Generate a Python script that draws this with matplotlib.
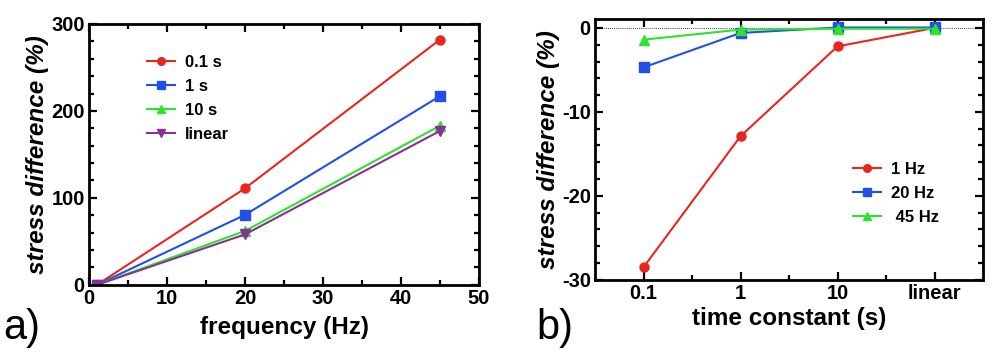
import numpy as np
import matplotlib.pyplot as plt
from matplotlib.ticker import MultipleLocator, FixedLocator

plt.rcParams['font.family'] = ['Liberation Sans', 'DejaVu Sans']
plt.rcParams['font.weight'] = 'bold'
plt.rcParams['axes.labelweight'] = 'bold'
plt.rcParams['axes.unicode_minus'] = False

# =====================================================
# Data
# =====================================================
# panel a) stress difference vs frequency
freq = [1, 20, 45]
a_labels = ["0.1 s", "1 s", "10 s", "linear"]
a_01s = [0, 111, 282]
a_1s = [0, 80.5, 217]
a_10s = [0, 62, 183]
a_linear = [0, 58, 177]

# panel b) stress difference vs time constant
tc_labels = ["0.1", "1", "10", "linear"]
b_labels = ["1 Hz", "20 Hz", " 45 Hz"]
b_1hz = [-28.5, -12.9, -2.2, 0.0]
b_20hz = [-4.7, -0.6, 0.05, 0.05]
b_45hz = [-1.4, -0.2, -0.1, -0.1]

red = "#e8261e"
blue = "#2150e6"
green = "#2ee42a"
purple = "#8a2f98"


def style_axes(ax):
    for s in ax.spines.values():
        s.set_linewidth(2)
    ax.tick_params(which="both", direction="in", top=True, right=True, width=1.6)
    ax.tick_params(which="major", length=6, labelsize=14.5, pad=3)
    ax.tick_params(which="minor", length=3.5)


fig = plt.figure(figsize=(10, 3.57), dpi=100)

# =====================================================
# Panel a)
# =====================================================
ax1 = fig.add_axes([0.089, 0.202, 0.39, 0.731])
ax1.plot(freq, a_01s, "-o", color=red, lw=1.5, ms=6.5, label=a_labels[0])
ax1.plot(freq, a_1s, "-s", color=blue, lw=1.5, ms=6.5, label=a_labels[1])
ax1.plot(freq, a_10s, "-^", color=green, lw=1.5, ms=6.5, label=a_labels[2])
ax1.plot(freq, a_linear, "-v", color=purple, lw=1.5, ms=6.5, label=a_labels[3])
ax1.set_xlim(0, 50)
ax1.set_ylim(0, 300)
ax1.xaxis.set_major_locator(MultipleLocator(10))
ax1.xaxis.set_minor_locator(MultipleLocator(5))
ax1.yaxis.set_major_locator(MultipleLocator(100))
ax1.yaxis.set_minor_locator(MultipleLocator(20))
style_axes(ax1)
ax1.set_xlabel("frequency (Hz)", fontsize=17.5, labelpad=6)
ax1.set_ylabel("stress difference (%)", fontsize=17.5, fontstyle="italic", labelpad=2)
ax1.legend(loc="upper left", bbox_to_anchor=(0.11, 0.94), frameon=False,
           prop={"weight": "bold", "size": 12}, markerscale=0.85,
           handlelength=1.7, handletextpad=0.6, labelspacing=0.55)

# =====================================================
# Panel b)
# =====================================================
ax2 = fig.add_axes([0.595, 0.216, 0.388, 0.731])
xb = np.arange(len(tc_labels))
ax2.axhline(0, color="black", lw=0.6, ls=(0, (1, 1.5)), zorder=1)
ax2.plot(xb, b_1hz, "-o", color=red, lw=1.5, ms=6.5, label=b_labels[0])
ax2.plot(xb, b_20hz, "-s", color=blue, lw=1.5, ms=6.5, label=b_labels[1])
ax2.plot(xb, b_45hz, "-^", color=green, lw=1.5, ms=6.5, label=b_labels[2])
ax2.set_xlim(-0.5, 3.5)
ax2.set_ylim(-30, 1.07)
ax2.set_xticks(xb)
ax2.set_xticklabels(tc_labels)
ax2.xaxis.set_minor_locator(FixedLocator([0.5, 1.5, 2.5]))
ax2.yaxis.set_major_locator(MultipleLocator(10))
ax2.yaxis.set_minor_locator(MultipleLocator(2))
style_axes(ax2)
ax2.set_xlabel("time constant (s)", fontsize=17.5, labelpad=3)
ax2.set_ylabel("stress difference (%)", fontsize=17.5, fontstyle="italic", labelpad=1)
ax2.legend(loc="upper left", bbox_to_anchor=(0.625, 0.51), frameon=False,
           prop={"weight": "bold", "size": 12}, markerscale=0.85,
           handlelength=1.7, handletextpad=0.6, labelspacing=0.55)

# panel letters
fig.text(0.003, 0.05, "a)", fontsize=30, fontweight="normal")
fig.text(0.536, 0.05, "b)", fontsize=30, fontweight="normal")

fig.savefig("out.png", dpi=100)
